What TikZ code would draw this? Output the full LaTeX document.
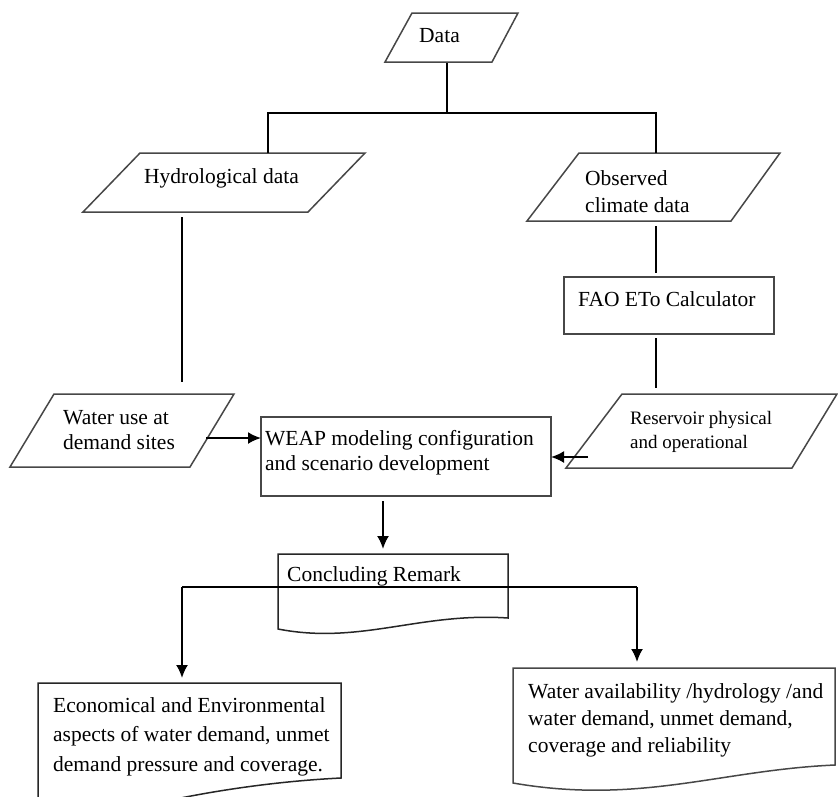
\documentclass[tikz,border=0pt]{standalone}
\usepackage{fontspec}
\setmainfont{Liberation Serif}
\usetikzlibrary{arrows.meta}
\begin{document}
\begin{tikzpicture}[x=1pt,y=-1pt,
  shapeline/.style={line width=1.5pt,draw=black!72,line join=miter},
  conn/.style={line width=2pt,black},
  arr/.style={conn,-{Latex[length=13pt,width=12pt]}},
  txt/.style={inner sep=0pt,anchor=base west,align=left,font=\fontsize{21.5}{27}\selectfont},
  smalltxt/.style={txt,font=\fontsize{19}{23.5}\selectfont}]
\clip (0,0) rectangle (838,796);
\fill[white] (0,0) rectangle (838,796);

% ---------- shapes ----------
% Data
\draw[shapeline] (412,13) -- (518,13) -- (492,62) -- (385,62) -- cycle;
\node[txt] (data) at (419,42) {Data};
% Hydrological data
\draw[shapeline] (140,153) -- (365,153) -- (308,212) -- (83,212) -- cycle;
\node[txt] (hydro) at (144,183) {Hydrological data};
% Observed climate data
\draw[shapeline] (579,153) -- (780,153) -- (731,221) -- (527,221) -- cycle;
\node[txt] (obs) at (585,212) {Observed\\climate data};
% FAO
\draw[shapeline] (564,277) rectangle (774,334);
\node[txt] (fao) at (578,306) {FAO ETo Calculator};
% Reservoir
\draw[shapeline] (622,394) -- (837,394) -- (792,468) -- (566,468) -- cycle;
\node[smalltxt] (res) at (630,448) {Reservoir physical\\and operational};
% Water use
\draw[shapeline] (54,394) -- (234,394) -- (190,467) -- (10,467) -- cycle;
\node[txt,font=\fontsize{21.5}{25}\selectfont] (wuse) at (63,449) {Water use at\\demand sites};
% WEAP
\draw[shapeline] (261,417) rectangle (551,496);
\node[txt,font=\fontsize{21.5}{25}\selectfont] (weap) at (265,470) {WEAP modeling configuration\\and scenario development};
% Concluding remark (document shape)
\draw[shapeline,black!85] (278,554) -- (508,554) -- (508,618)
  .. controls (420,612) and (360,645) .. (278,629) -- cycle;
\node[txt] (conc) at (287,581) {Concluding Remark};
% Left result (document shape)
\draw[shapeline,black!85] (38,820) -- (38,683) -- (341,683) -- (341,778)
  .. controls (260,782) and (180,796) .. (120,812);
\node[txt,font=\fontsize{21.5}{29.5}\selectfont] (left) at (53,771)
  {Economical and Environmental\\aspects of water demand, unmet\\demand pressure and coverage.};
% Right result (document shape)
\draw[shapeline] (513,668) -- (835,668) -- (835,765)
  .. controls (720,770) and (640,805) .. (513,783) -- cycle;
\node[txt] (right) at (528,752)
  {Water availability /hydrology /and\\water demand, unmet demand,\\coverage and reliability};

% ---------- connector points ----------
\coordinate (dataS) at (447,63);
\coordinate (jTop) at (447,113);
\coordinate (jL) at (268,113);
\coordinate (jR) at (656,113);
\coordinate (hydroN) at (268,153);
\coordinate (obsN) at (656,153);
\coordinate (hydroS) at (182,217);
\coordinate (wuseN) at (182,382);
\coordinate (obsS) at (656,226);
\coordinate (faoN) at (656,273);
\coordinate (faoS) at (656,338);
\coordinate (resN) at (656,388);
\coordinate (wuseE) at (206,438);
\coordinate (weapW) at (261,438);
\coordinate (resW) at (588,457);
\coordinate (weapE) at (551,457);
\coordinate (weapS) at (383,501);
\coordinate (concN) at (383,549);
\coordinate (brL) at (182,587);
\coordinate (brR) at (637,587);
\coordinate (leftN) at (182,678);
\coordinate (rightN) at (637,662);

% ---------- connectors ----------
\draw[conn] (dataS) -- (jTop);
\draw[conn] (hydroN) -- (jL) -- (jR) -- (obsN);
\draw[conn] (hydroS) -- (wuseN);
\draw[conn] (obsS) -- (faoN);
\draw[conn] (faoS) -- (resN);
\draw[arr] (wuseE) -- (weapW);
\draw[arr] (resW) -- (weapE);
\draw[arr] (weapS) -- (concN);
\draw[conn] (brL) -- (brR);
\draw[arr] (brL) -- (leftN);
\draw[arr] (brR) -- (rightN);
\end{tikzpicture}
\end{document}
